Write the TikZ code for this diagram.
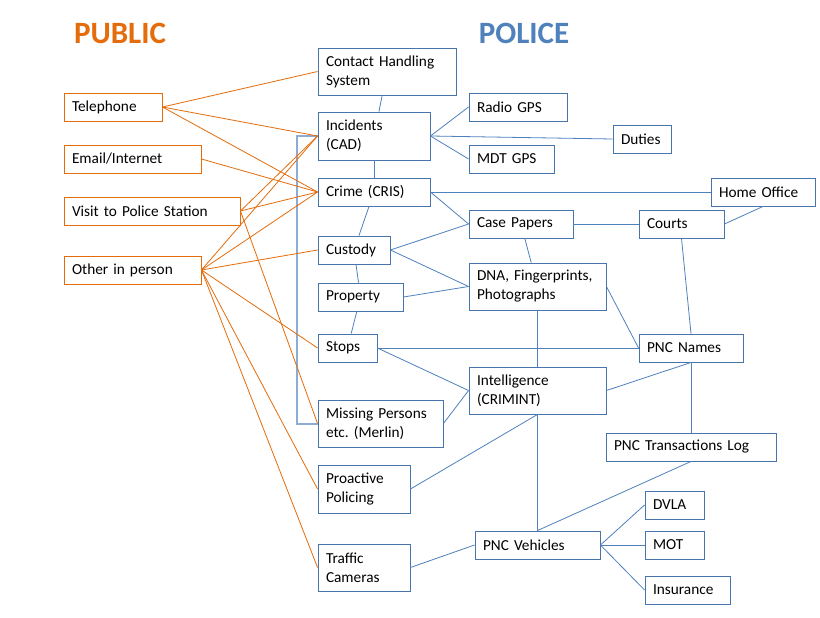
\documentclass[tikz,border=0pt]{standalone}
\usepackage{fontspec}
\setmainfont{Carlito}
\usepackage{tikz}
\frenchspacing
\definecolor{pubor}{RGB}{228,108,10}
\definecolor{polblue}{RGB}{79,129,189}
\definecolor{brblue}{RGB}{140,172,212}
\tikzstyle{cellbox}=[rectangle,inner xsep=8pt,inner ysep=0pt,align=left,line width=0.9pt,
                    font=\fontsize{15.3}{19}\selectfont]
\tikzstyle{pubbox}=[cellbox,draw=pubor]
\tikzstyle{polbox}=[cellbox,draw=polblue!90!black]
\tikzstyle{publine}=[draw=pubor,line width=0.8pt]
\tikzstyle{polline}=[draw=polblue,line width=0.8pt]
\tikzstyle{bracket}=[draw=brblue,line width=2pt]
\tikzstyle{title}=[font=\fontsize{31}{36}\selectfont\bfseries]

\begin{document}
\begin{tikzpicture}[x=1pt,y=-1pt]
      \fill[white] (0,0) rectangle (820,618);
      \useasboundingbox (0,0) rectangle (820,618);

      \node[title,text=pubor] (public) at (120,33) {PUBLIC};
      \node[title,text=polblue] (police) at (524,33) {POLICE};

      % public side
      \node[pubbox,text width=82pt,minimum height=28pt] (tel) at (113,107) {Telephone};
      \node[pubbox,text width=121pt,minimum height=28pt] (mail) at (132.5,159) {Email/Internet};
      \node[pubbox,text width=160pt,minimum height=28pt] (visit) at (152,211) {Visit to Police Station};
      \node[pubbox,text width=121pt,minimum height=28pt] (other) at (132.5,270) {Other in person};

      % police side
      \node[polbox,text width=122pt,minimum height=47pt] (chs) at (387,71.5) {Contact Handling\\System};
      \node[polbox,text width=96pt,minimum height=48pt] (cad) at (374,136) {Incidents\\(CAD)};
      \node[polbox,text width=96pt,minimum height=28pt] (cris) at (374,192) {Crime (CRIS)};
      \node[polbox,text width=56pt,minimum height=28pt] (cust) at (354,250) {Custody};
      \node[polbox,text width=69pt,minimum height=28pt] (prop) at (360.5,297) {Property};
      \node[polbox,text width=43pt,minimum height=28pt] (stops) at (347.5,348) {Stops};
      \node[polbox,text width=109pt,minimum height=47pt] (miss) at (380.5,423.5) {Missing Persons\\etc. (Merlin)};
      \node[polbox,text width=76pt,minimum height=48pt] (proact) at (364,489) {Proactive\\Policing};
      \node[polbox,text width=76pt,minimum height=47pt] (traffic) at (364,567.5) {Traffic\\Cameras};

      \node[polbox,text width=82pt,minimum height=28pt] (radio) at (518,107) {Radio GPS};
      \node[polbox,text width=69pt,minimum height=28pt] (mdt) at (511.5,159) {MDT GPS};
      \node[polbox,text width=42pt,minimum height=28pt] (duties) at (642,139) {Duties};
      \node[polbox,text width=88pt,minimum height=28pt] (home) at (763,192) {Home Office};
      \node[polbox,text width=88pt,minimum height=28pt] (case) at (521,224) {Case Papers};
      \node[polbox,text width=69pt,minimum height=28pt] (courts) at (681.5,224) {Courts};
      \node[polbox,text width=121pt,minimum height=47pt] (dna) at (537.5,286.5) {DNA, Fingerprints,\\Photographs};
      \node[polbox,text width=88pt,minimum height=28pt] (names) at (691,348) {PNC Names};
      \node[polbox,text width=121pt,minimum height=47pt] (intel) at (537.5,390.5) {Intelligence\\(CRIMINT)};
      \node[polbox,text width=154pt,minimum height=28pt] (trans) at (691,447) {PNC Transactions Log};
      \node[polbox,text width=109pt,minimum height=28pt] (veh) at (537.5,545) {PNC Vehicles};
      \node[polbox,text width=43pt,minimum height=28pt] (dvla) at (674.5,505) {DVLA};
      \node[polbox,text width=43pt,minimum height=28pt] (mot) at (674.5,545) {MOT};
      \node[polbox,text width=69pt,minimum height=28pt] (ins) at (687.5,590) {Insurance};

      \draw[bracket] (cad.west) -- ++(-21,0) |- (miss.west);

      \draw[publine] (tel.east)--(chs.west);
      \draw[publine] (tel.east)--(cad.west);
      \draw[publine] (tel.east)--(cris.west);
      \draw[publine] (mail.east)--(cris.west);
      \draw[publine] (visit.east)--(cad.west);
      \draw[publine] (visit.east)--(cris.west);
      \draw[publine] (visit.east)--(miss.west);
      \draw[publine] (other.east)--(cad.west);
      \draw[publine] (other.east)--(cris.west);
      \draw[publine] (other.east)--(cust.west);
      \draw[publine] (other.east)--(stops.west);
      \draw[publine] (other.east)--(proact.west);
      \draw[publine] (other.east)--(traffic.west);

      \draw[polline] (chs)--(cad);
      \draw[polline] (cad.east)--(radio.west);
      \draw[polline] (cad.east)--(mdt.west);
      \draw[polline] (cad.east)--(duties.west);
      \draw[polline] (cad)--(cris);
      \draw[polline] (cris.east)--(home.west);
      \draw[polline] (cris.east)--(case.west);
      \draw[polline] (cris)--(cust);
      \draw[polline] (cust.east)--(case.west);
      \draw[polline] (cust.east)--(dna.west);
      \draw[polline] (cust)--(prop);
      \draw[polline] (prop.east)--(dna.west);
      \draw[polline] (prop)--(stops);
      \draw[polline] (stops.east)--(names.west);
      \draw[polline] (stops.east)--(intel.west);
      \draw[polline] (miss.east)--(intel.west);
      \draw[polline] (proact.east)--(intel.south);
      \draw[polline] (traffic.east)--(veh.west);
      \draw[polline] (case.east)--(courts.west);
      \draw[polline] (case)--(dna);
      \draw[polline] (courts.east)--(home.south);
      \draw[polline] (courts.south)--(names.north);
      \draw[polline] (dna.east)--(names.west);
      \draw[polline] (dna.south)--(intel.north);
      \draw[polline] (intel.east)--(names.south);
      \draw[polline] (names.south)--(trans.north);
      \draw[polline] (intel.south)--(veh.north);
      \draw[polline] (trans.south)--(veh.north);
      \draw[polline] (veh.east)--(dvla.west);
      \draw[polline] (veh.east)--(mot.west);
      \draw[polline] (veh.east)--(ins.west);
    \end{tikzpicture}
\end{document}
